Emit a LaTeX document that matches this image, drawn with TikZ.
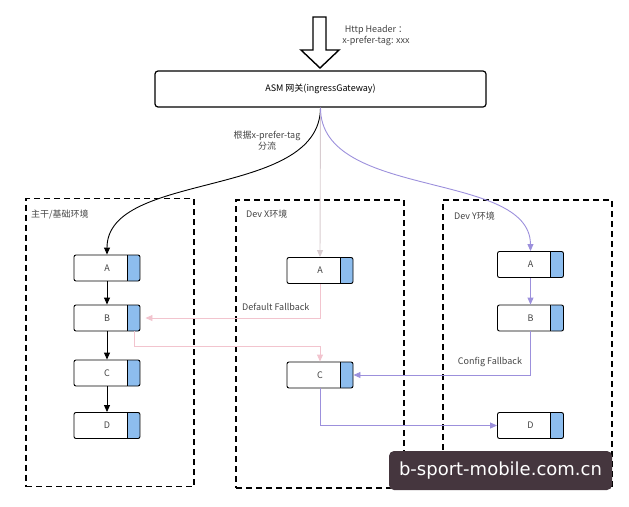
\documentclass[tikz,border=0pt]{standalone}
\usepackage{fontspec}
\setmainfont{Noto Sans CJK SC}
\newfontfamily\markfont{DejaVu Sans}
\usetikzlibrary{arrows.meta, positioning}

\definecolor{stripblue}{HTML}{8DBDEE}
\definecolor{flowpurple}{HTML}{9C90DC}
\definecolor{fallpink}{HTML}{F2C4CE}
\definecolor{routegray}{HTML}{D8CCD0}
\definecolor{markbg}{HTML}{45363E}
\definecolor{labelgray}{HTML}{444444}

\begin{document}
\begin{tikzpicture}[
    x=1pt, y=-1pt,
    font=\fontsize{9}{11}\selectfont,
    gatebox/.style={
        rectangle,
        draw,
        line width=1.2pt,
        rounded corners=3pt,
        minimum width=331pt,
        minimum height=36pt
    },
    envbox/.style={
        rectangle,
        draw,
        line width=1.2pt,
        dash pattern=on 6pt off 4pt,
        minimum width=168pt,
        minimum height=288pt
    },
    svc/.style={
        rectangle,
        draw,
        fill=white,
        line width=0.9pt,
        rounded corners=2pt,
        minimum width=66pt,
        minimum height=26pt,
        inner sep=0pt,
        text=labelgray,
        path picture={
            \fill[stripblue] ([xshift=-13pt]path picture bounding box.north east) rectangle (path picture bounding box.south east);
            \draw[line width=0.9pt] ([xshift=-13pt]path picture bounding box.north east) -- ([xshift=-13pt]path picture bounding box.south east);
        }
    },
    tag/.style={text=labelgray, align=center, inner sep=1pt},
    arrow/.style={-{Triangle[length=7pt, width=6pt]}, line width=0.9pt},
    markbox/.style={
        rectangle,
        fill=markbg,
        rounded corners=5pt,
        minimum width=223pt,
        minimum height=39pt,
        text=white,
        font=\markfont\fontsize{18}{21}\selectfont
    }
]

\useasboundingbox (0,0) rectangle (629,506);

% Incoming request
\draw[line width=1.4pt, fill=white] (313,17) -- (326,17) -- (326,50) -- (339,50)
    -- (320,68) -- (301,50) -- (313,50) -- cycle;
\node[tag] (header) at (376,36) {Http Header ：\\x-prefer-tag: xxx};

\node[gatebox] (gateway) at (320.5,89) {ASM 网关(ingressGateway)};
\node[tag] (split) at (267,141) {根据x-prefer-tag\\分流};

% Environments
\node[envbox] (mainenv) at (110,342.5) {};
\node[envbox] (devxenv) at (320,344) {};
\node[envbox, minimum width=169pt] (devyenv) at (527.5,344) {};

\node[tag, anchor=west] at (30,214) {主干/基础环境};
\node[tag, anchor=west] at (245,214) {Dev X环境};
\node[tag, anchor=west] at (453,216) {Dev Y环境};

% Main side
\node[svc] (mainA) at (107,268) {A};
\node[svc] (mainB) at (107,318) {B};
\node[svc] (mainC) at (107,373) {C};
\node[svc] (mainD) at (107,425.5) {D};

\draw[arrow] (mainA) -- (mainB);
\draw[arrow] (mainB) -- (mainC);
\draw[arrow] (mainC) -- (mainD);

% Dev X side
\node[svc] (devxA) at (320,270.5) {A};
\node[svc] (devxC) at (320,375) {C};

% Dev Y side
\node[svc] (devyA) at (530.5,264.5) {A};
\node[svc] (devyB) at (530.5,318) {B};
\node[svc] (devyD) at (530.5,425.5) {D};

\draw[arrow, flowpurple] (devyA) -- (devyB);

% Routing from gateway
\draw[arrow] (gateway.south) .. controls (320,200) and (107,170) .. (mainA.north);
\draw[arrow, routegray] (gateway.south) -- (devxA.north);
\draw[arrow, flowpurple] (gateway.south) .. controls (320,200) and (530,170) .. (devyA.north);

% Fallbacks
\draw[arrow, fallpink] (devxA.south) |- ([xshift=5pt]mainB.east);
\node[tag, anchor=west] (deffall) at (241,307) {Default Fallback};
\draw[arrow, fallpink] ([xshift=-6.5pt]mainB.south east) -- ++(0,15) -| (devxC.north);

\draw[arrow, flowpurple] (devyB.south) |- (devxC.east);
\node[tag] (cfgfall) at (490,362) {Config Fallback};
\draw[arrow, flowpurple] (devxC.south) |- (devyD.west);

% Watermark
\node[markbox] (mark) at (500.5,470.5) {b-sport-mobile.com.cn};

\end{tikzpicture}
\end{document}
